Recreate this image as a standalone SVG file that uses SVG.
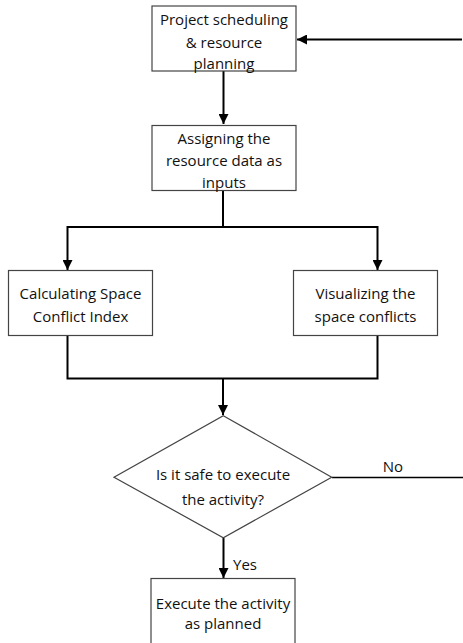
<svg xmlns="http://www.w3.org/2000/svg" width="463" height="643" viewBox="0 0 463 643">
<style>
.box{fill:#fff;stroke:#444;stroke-width:1.2}
.t{font-family:"Open Sans","Liberation Sans",sans-serif;font-size:15px;fill:#111;text-anchor:middle;dominant-baseline:central}
.c{fill:none;stroke:#000;stroke-width:2}
.c1{fill:none;stroke:#000;stroke-width:1.3}
</style>
<defs>
<marker id="ah" viewBox="0 0 10 10" refX="10" refY="5" markerWidth="5" markerHeight="5" orient="auto" markerUnits="strokeWidth">
<path d="M0,0 L10,5 L0,10 z" fill="#000"/>
</marker>
</defs>
<rect width="463" height="643" fill="#fff"/>
<g id="connectors">
<line class="c" x1="462" y1="39.5" x2="297" y2="39.5" marker-end="url(#ah)"/>
<line class="c" x1="223.5" y1="71" x2="223.5" y2="124" marker-end="url(#ah)"/>
<polyline class="c" points="223,191 223,227"/>
<polyline class="c" points="67.5,227 378,227"/>
<line class="c" x1="67.5" y1="226" x2="67.5" y2="270" marker-end="url(#ah)"/>
<line class="c" x1="377.5" y1="226" x2="377.5" y2="270" marker-end="url(#ah)"/>
<polyline class="c" points="67.5,335 67.5,378.5 377.5,378.5 377.5,335"/>
<line class="c" x1="223" y1="378" x2="223" y2="415" marker-end="url(#ah)"/>
<line class="c1" x1="332" y1="477.5" x2="463" y2="477.5"/>
<line class="c" x1="223.5" y1="538" x2="223.5" y2="578" marker-end="url(#ah)"/>
<text class="t" x="393" y="466">No</text>
<text class="t" x="245" y="564">Yes</text>
</g>
<g id="n1">
<rect class="box" x="152" y="6" width="144" height="65"/>
<text class="t" x="224" y="19">Project scheduling</text>
<text class="t" x="224" y="41.5">&amp; resource</text>
<text class="t" x="224" y="62.5">planning</text>
</g>
<g id="n2">
<rect class="box" x="152" y="125.5" width="144" height="65"/>
<text class="t" x="224" y="137.5">Assigning the</text>
<text class="t" x="224" y="159.5">resource data as</text>
<text class="t" x="224" y="181.5">inputs</text>
</g>
<g id="n3">
<rect class="box" x="8.5" y="270.5" width="144" height="65"/>
<text class="t" x="80.5" y="293">Calculating Space</text>
<text class="t" x="80.5" y="315.5">Conflict Index</text>
</g>
<g id="n4">
<rect class="box" x="293.5" y="270.5" width="144" height="65"/>
<text class="t" x="365.5" y="293">Visualizing the</text>
<text class="t" x="365.5" y="315.5">space conflicts</text>
</g>
<g id="n5">
<polygon class="box" points="223.3,415.7 331.7,477.3 223.3,537.7 114,477.3"/>
<text class="t" x="223" y="474">Is it safe to execute</text>
<text class="t" x="223" y="499">the activity?</text>
</g>
<g id="n6">
<rect class="box" x="151" y="578.5" width="144" height="70"/>
<text class="t" x="223" y="602.5">Execute the activity</text>
<text class="t" x="223" y="622.5">as planned</text>
</g>
</svg>
